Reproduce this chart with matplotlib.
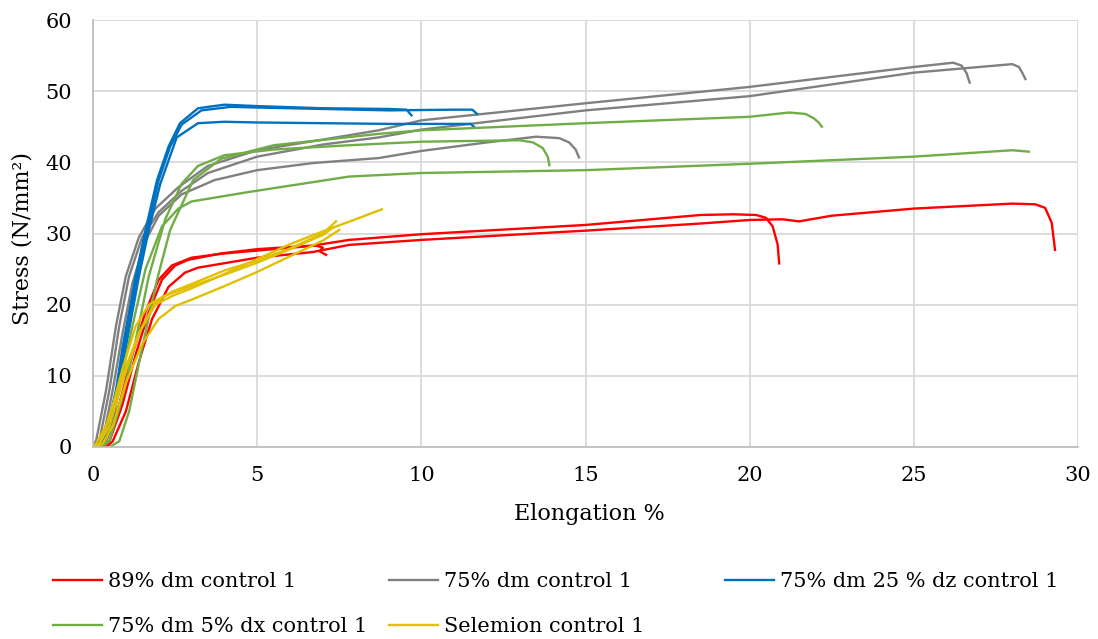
import matplotlib
matplotlib.use("Agg")
import matplotlib.pyplot as plt

plt.rcParams['font.family'] = ['DejaVu Serif']

# 89% dm control 1 (red)
red_1_x = [0.3, 0.5, 0.9, 1.3, 1.7, 2.1, 2.5, 2.9, 3.9, 5.0, 6.7, 7.8, 10.0, 15.0, 18.5, 19.5, 20.2, 20.5, 20.7, 20.85, 20.9]
red_1_y = [0.0, 0.8, 6.0, 13.0, 19.0, 23.5, 25.5, 26.3, 27.2, 27.8, 28.3, 29.1, 29.9, 31.2, 32.6, 32.7, 32.6, 32.2, 31.0, 28.5, 25.8]
red_2_x = [0.4, 0.6, 1.0, 1.4, 1.8, 2.3, 2.8, 3.2, 5.0, 6.7, 7.8, 10.0, 15.0, 18.5, 20.0, 21.0, 21.5, 22.5, 25.0, 28.0, 28.7, 29.0, 29.2, 29.3]
red_2_y = [0.0, 0.8, 5.0, 12.0, 18.0, 22.5, 24.5, 25.2, 26.6, 27.4, 28.4, 29.1, 30.4, 31.4, 31.9, 32.0, 31.7, 32.5, 33.5, 34.2, 34.1, 33.6, 31.5, 27.7]
red_3_x = [0.2, 0.4, 0.8, 1.2, 1.6, 2.0, 2.4, 3.0, 4.0, 5.0, 6.0, 6.8, 7.0, 6.9, 7.1]
red_3_y = [0.0, 0.8, 6.0, 13.0, 19.0, 23.5, 25.5, 26.6, 27.2, 27.6, 28.0, 28.3, 28.0, 27.5, 27.0]

# 75% dm control 1 (grey)
grey_1_x = [0.05, 0.2, 0.5, 0.8, 1.1, 1.5, 2.0, 2.7, 3.5, 5.0, 7.0, 8.7, 10.0, 15.0, 20.0, 25.0, 27.5, 28.0, 28.2, 28.3, 28.4]
grey_1_y = [0.0, 1.0, 8.0, 17.0, 24.0, 29.5, 33.0, 36.0, 38.5, 40.8, 42.5, 43.5, 44.6, 47.3, 49.3, 52.6, 53.6, 53.8, 53.4, 52.6, 51.7]
grey_2_x = [0.0, 0.1, 0.4, 0.7, 1.0, 1.4, 1.9, 2.6, 3.5, 5.0, 7.0, 8.7, 10.0, 15.0, 20.0, 25.0, 26.2, 26.45, 26.6, 26.7]
grey_2_y = [0.0, 1.0, 8.0, 17.0, 24.0, 29.5, 33.5, 36.5, 39.5, 41.7, 43.2, 44.5, 45.9, 48.3, 50.6, 53.4, 54.0, 53.6, 52.6, 51.2]
grey_3_x = [0.1, 0.3, 0.6, 0.9, 1.2, 1.6, 2.0, 2.7, 3.7, 5.0, 6.7, 8.7, 10.0, 12.0, 13.5, 14.2, 14.5, 14.7, 14.8]
grey_3_y = [0.0, 1.0, 8.0, 16.0, 23.0, 29.0, 32.5, 35.5, 37.5, 38.9, 39.9, 40.6, 41.6, 42.8, 43.6, 43.4, 42.8, 41.8, 40.7]

# 75% dm 25 % dz control 1 (blue)
blue_1_x = [0.0, 0.15, 0.4, 0.7, 0.9, 1.1, 1.3, 1.6, 1.95, 2.3, 2.65, 3.2, 4.0, 5.0, 7.0, 9.0, 9.55, 9.7]
blue_1_y = [0.0, 0.5, 2.0, 8.0, 14.0, 19.0, 24.0, 30.5, 37.5, 42.2, 45.5, 47.6, 48.1, 47.9, 47.6, 47.5, 47.4, 46.6]
blue_2_x = [0.05, 0.2, 0.45, 0.75, 0.95, 1.15, 1.35, 1.65, 2.0, 2.35, 2.7, 3.3, 4.2, 5.0, 7.0, 9.0, 11.0, 11.55, 11.7]
blue_2_y = [0.0, 0.5, 2.0, 8.0, 14.0, 19.0, 24.0, 30.5, 37.5, 42.2, 45.3, 47.3, 47.8, 47.7, 47.5, 47.3, 47.4, 47.4, 46.8]
blue_3_x = [0.1, 0.25, 0.5, 0.8, 1.0, 1.2, 1.4, 1.7, 2.05, 2.55, 3.2, 4.0, 5.0, 7.0, 9.0, 11.0, 11.5, 11.6]
blue_3_y = [0.0, 0.5, 2.0, 8.0, 14.0, 19.0, 24.0, 30.5, 37.0, 43.5, 45.5, 45.7, 45.6, 45.5, 45.4, 45.4, 45.4, 45.0]

# 75% dm 5% dx control 1 (green)
green_1_x = [0.5, 0.8, 1.1, 1.5, 1.95, 2.35, 3.05, 3.9, 5.5, 8.7, 10.0, 15.0, 20.0, 21.2, 21.7, 21.95, 22.1, 22.2]
green_1_y = [0.0, 0.8, 5.0, 14.0, 23.5, 30.5, 37.5, 40.5, 42.4, 44.0, 44.5, 45.5, 46.4, 47.0, 46.8, 46.2, 45.6, 45.0]
green_2_x = [0.2, 0.4, 0.8, 1.2, 1.6, 2.1, 2.6, 3.0, 4.7, 7.8, 10.0, 15.0, 20.0, 25.0, 28.0, 28.5]
green_2_y = [0.0, 0.8, 8.0, 17.0, 25.0, 31.0, 33.5, 34.5, 35.8, 38.0, 38.5, 38.9, 39.8, 40.8, 41.7, 41.5]
green_3_x = [0.25, 0.5, 0.9, 1.3, 1.7, 2.2, 2.7, 3.2, 4.0, 5.5, 7.8, 10.0, 13.0, 13.4, 13.7, 13.85, 13.9]
green_3_y = [0.0, 0.8, 7.0, 15.0, 24.0, 32.0, 37.0, 39.5, 41.0, 41.8, 42.4, 42.9, 43.1, 42.8, 42.0, 40.8, 39.6]

# Selemion control 1 (yellow)
yellow_1_x = [0.0, 0.1, 0.4, 0.9, 1.4, 1.9, 2.4, 3.0, 4.0, 5.0, 6.0, 7.0, 8.0, 8.8]
yellow_1_y = [0.0, 0.5, 3.0, 10.0, 16.0, 20.0, 21.2, 22.3, 24.3, 26.4, 28.5, 30.3, 32.0, 33.4]
yellow_2_x = [0.05, 0.2, 0.5, 0.95, 1.45, 1.9, 2.4, 3.0, 4.0, 5.0, 6.0, 7.0, 7.4]
yellow_2_y = [0.0, 0.5, 3.0, 10.0, 16.5, 20.3, 21.8, 22.9, 24.8, 26.2, 27.9, 30.0, 31.7]
yellow_3_x = [0.1, 0.3, 0.6, 1.0, 1.5, 2.0, 2.5, 3.0, 4.0, 5.0, 6.0, 7.0, 7.5]
yellow_3_y = [0.0, 0.5, 3.0, 9.0, 14.5, 18.0, 19.8, 20.7, 22.6, 24.6, 26.8, 29.0, 30.5]
yellow_4_x = [0.05, 0.2, 0.5, 0.9, 1.3, 1.7, 2.2, 3.0, 4.0, 5.0, 6.0, 7.0, 7.3]
yellow_4_y = [0.0, 0.5, 4.0, 11.0, 17.0, 20.0, 21.3, 22.6, 24.2, 25.9, 27.8, 29.8, 30.8]

labels = ['89% dm control 1', '75% dm control 1', '75% dm 25 % dz control 1',
          '75% dm 5% dx control 1', 'Selemion control 1']
colors = ['#ff0000', '#808080', '#0070c0', '#70ad47', '#e0c000']

groups = [
    [(red_1_x, red_1_y), (red_2_x, red_2_y), (red_3_x, red_3_y)],
    [(grey_1_x, grey_1_y), (grey_2_x, grey_2_y), (grey_3_x, grey_3_y)],
    [(blue_1_x, blue_1_y), (blue_2_x, blue_2_y), (blue_3_x, blue_3_y)],
    [(green_1_x, green_1_y), (green_2_x, green_2_y), (green_3_x, green_3_y)],
    [(yellow_1_x, yellow_1_y), (yellow_2_x, yellow_2_y), (yellow_3_x, yellow_3_y), (yellow_4_x, yellow_4_y)],
]

fig = plt.figure(figsize=(10.98, 6.39), dpi=100)
ax = fig.add_axes([93 / 1098, 1 - 447 / 639, (1078 - 93) / 1098, (447 - 20) / 639])

handles = []
for curves, col, lab in zip(groups, colors, labels):
    for i, (xs, ys) in enumerate(curves):
        ln, = ax.plot(xs, ys, color=col, lw=1.7, label=lab if i == 0 else None)
        if i == 0:
            handles.append(ln)

ax.set_xlim(0, 30)
ax.set_ylim(0, 60)
ax.set_xticks(range(0, 31, 5))
ax.set_yticks(range(0, 61, 10))
ax.grid(True, color='#d9d9d9', lw=1.3)
ax.set_axisbelow(True)
for s in ['top', 'right']:
    ax.spines[s].set_visible(False)
for s in ['left', 'bottom']:
    ax.spines[s].set_color('#bfbfbf')
    ax.spines[s].set_linewidth(1.3)
ax.tick_params(axis='both', length=0, labelsize=15, colors='#000000')
ax.tick_params(axis='x', pad=14)
ax.tick_params(axis='y', pad=15)

fig.text(589 / 1098, 1 - 514 / 639, 'Elongation %', ha='center', va='center', fontsize=16)
fig.text(23 / 1098, 1 - 238 / 639, 'Stress (N/mm²)', ha='center', va='center',
         rotation=90, fontsize=16)

# legend: three columns, one legend per column
col_x = [53 / 1098, 389 / 1098, 725 / 1098]
cols = [[handles[0], handles[3]], [handles[1], handles[4]], [handles[2]]]
for cx, hs in zip(col_x, cols):
    fig.legend(handles=hs, labels=[h.get_label() for h in hs], loc='upper left',
               bbox_to_anchor=(cx, 1 - 572 / 639), frameon=False, fontsize=15,
               handlelength=2.35, handletextpad=0.3, labelspacing=1.25,
               borderaxespad=0, borderpad=0)

fig.savefig('out.png', dpi=100)
